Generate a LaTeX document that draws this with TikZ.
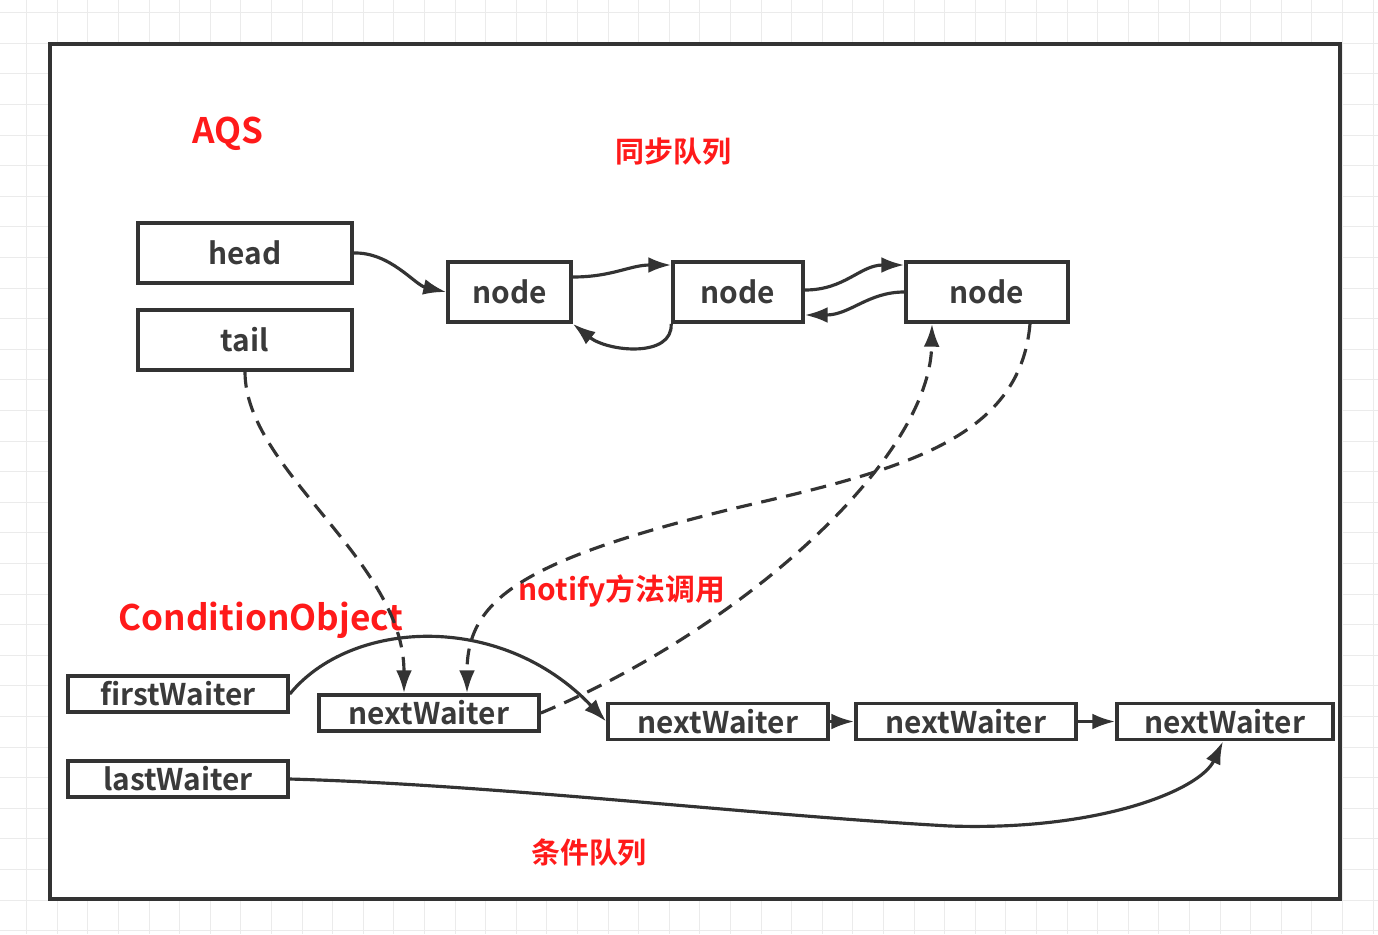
\documentclass[tikz,border=0pt]{standalone}
\usepackage{fontspec}
\setmainfont{Noto Sans CJK SC}[BoldFont={Noto Sans CJK SC Bold}]
\usepackage{tikz}
\usetikzlibrary{arrows,arrows.meta}
\usetikzlibrary{shapes,positioning,calc}
\definecolor{linegray}{HTML}{333333}
\definecolor{textgray}{HTML}{3A3A3A}
\definecolor{labelred}{HTML}{FF1A1A}
\definecolor{gridgray}{HTML}{EBEBEB}

\begin{document}
\begin{tikzpicture}[>={Latex[length=13pt,width=9pt]}, x=0.02cm, y=-0.02cm,
		box/.style={draw=linegray, line width=2.1pt, text=textgray, inner sep=0pt, font=\bfseries\fontsize{17}{20}\selectfont},
		qbox/.style={box, minimum height=1.2cm},
		wbox/.style={box, minimum width=4.4cm, minimum height=0.72cm},
		link/.style={->, draw=linegray, line width=1.8pt},
		weak/.style={link, dash pattern=on 9pt off 5.5pt},
		redlabel/.style={text=labelred, font=\bfseries\fontsize{20}{24}\selectfont}]
			\useasboundingbox (0,0) rectangle (1378,934);
			% grid paper
			\foreach \k in {0,...,44} \draw[gridgray, line width=0.6pt] (26.7+30.6*\k,0) -- (26.7+30.6*\k,934);
			\foreach \k in {0,...,30} \draw[gridgray, line width=0.6pt] (0,12.7+30.6*\k) -- (1378,12.7+30.6*\k);
			\draw[linegray, line width=2.2pt, fill=white] (50,44) rectangle (1340,899);
			\node[redlabel] (aqs) at (228,134) {AQS};
			\node[redlabel, font=\bfseries\fontsize{16.5}{20}\selectfont] (syncq) at (673,152) {同步队列};
			% sync queue
			\node[qbox, minimum width=4.28cm] (head) at (245,253) {head};
			\node[qbox, minimum width=4.28cm] (tail) at (245,340) {tail};
			\node[qbox, minimum width=2.46cm] (n1) at (509.5,292) {node};
			\node[qbox, minimum width=2.6cm] (n2) at (738,292) {node};
			\node[qbox, minimum width=3.24cm] (n3) at (987,292) {node};
			\draw[link] (head.east) .. controls (390,252) and (415,285) .. (n1.west);
			\draw[link] ($(n1.east)+(0,-15)$) .. controls (612,277) and (630,265) .. ($(n2.west)+(0,-27)$);
			\draw[link] (n2.south west) .. controls (673,358) and (608,352) .. (n1.south east);
			\draw[link] ($(n2.east)+(0,-2)$) .. controls (845,290) and (860,265) .. ($(n3.west)+(0,-27)$);
			\draw[link] (n3.west) .. controls (868,292) and (850,315) .. ($(n2.east)+(0,23)$);
			% condition queue
			\node[redlabel] (cond) at (261,620) {ConditionObject};
			\node[wbox] (first) at (178,694) {firstWaiter};
			\node[wbox] (last) at (178,779) {lastWaiter};
			\node[wbox] (w1) at (429,713) {nextWaiter};
			\node[wbox] (w2) at (718,721.5) {nextWaiter};
			\node[wbox] (w3) at (966,721.5) {nextWaiter};
			\node[wbox, minimum width=4.32cm] (w4) at (1225,721.5) {nextWaiter};
			\node[redlabel, font=\bfseries\fontsize{17}{20}\selectfont] (notify) at (622,591) {notify方法调用};
			\node[redlabel, font=\bfseries\fontsize{16.5}{20}\selectfont] (condq) at (589,853) {条件队列};
			\draw[link] (first.east) .. controls (350,620) and (500,610) .. (w2.west);
			\draw[link] (w2) -- (w3);
			\draw[link] (w3) -- (w4);
			\draw[link] (last.east) .. controls (500,785) and (750,815) .. (950,826) .. controls (1100,831) and (1200,790) .. ($(w4.south)+(-2,0)$);
			% links between the queues
			\draw[weak] (tail.south) .. controls (245,470) and (404,560) .. ($(w1.north)+(-25,0)$);
			\draw[weak] ($(n3.south)+(43,0)$) .. controls (1020,440) and (900,470) .. (740,507) .. controls (520,560) and (467,600) .. ($(w1.north)+(38,0)$);
			\draw[weak] (w1.east) .. controls (740,630) and (930,460) .. ($(n3.south)+(-55,0)$);
		\end{tikzpicture}
\end{document}
